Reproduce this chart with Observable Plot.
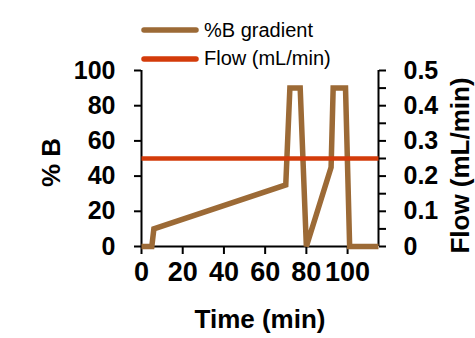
<!DOCTYPE html>
<html><head><meta charset="utf-8">
<script src="https://cdn.jsdelivr.net/npm/d3@7"></script>
<script src="https://cdn.jsdelivr.net/npm/@observablehq/plot@0.6"></script>
<style>
body{margin:0;background:#fff;}
#wrap{position:relative;width:475px;height:338px;font-family:"Liberation Sans",Arial,sans-serif;}
#legend{position:absolute;left:141px;top:16px;}
.item{display:flex;align-items:center;height:28.5px;}
.item span{font-size:20px;margin-left:5px;color:#000;white-space:nowrap;}
</style></head><body><div id="wrap"><div id="legend"></div></div>
<script>
// ---- data ----
const seriesNames = ["%B gradient", "Flow (mL/min)"];
const seriesColors = ["#9C6A36", "#D33B0A"];
const gradientTime = [0, 5, 6, 70, 72, 77, 80, 92, 93, 99, 101, 115];
const gradientPctB = [0, 0, 10, 35, 90, 90, 0, 45, 90, 90, 0, 0];
const flowTime = [0, 115];
const flowValues = [0.25, 0.25];
const xTicks = [0, 20, 40, 60, 80, 100];
const yTicks = [0, 20, 40, 60, 80, 100];
const flowTickValues = [0, 0.1, 0.2, 0.3, 0.4, 0.5];
const flowTickLabels = ["0", "0.1", "0.2", "0.3", "0.4", "0.5"];
const flowMinorTicks = [0.05, 0.15, 0.25, 0.35, 0.45];
const xLabel = "Time (min)";
const yLabel = "% B";
const y2Label = "Flow (mL/min)";

// ---- derived ----
const flowMax = 0.5, pctMax = 100;
const toPct = v => Math.round(v / flowMax * pctMax * 1000) / 1000;
const gradient = gradientTime.map((t, i) => ({t, b: gradientPctB[i]}));
const flow = flowTime.map((t, i) => ({t, b: toPct(flowValues[i])}));
const rightMajor = flowTickValues.map(toPct);
const labelByPct = new Map(rightMajor.map((p, i) => [p, flowTickLabels[i]]));
const rightMinor = flowMinorTicks.map(toPct);

const font = "Liberation Sans, Arial, sans-serif";
const chart = Plot.plot({
  width: 475, height: 338,
  marginLeft: 141, marginRight: 97, marginTop: 70, marginBottom: 92,
  x: {domain: [0, 115]},
  y: {domain: [0, 100]},
  style: {fontFamily: font, background: "transparent", overflow: "visible", color: "#000"},
  marks: [
    Plot.axisX({ticks: xTicks, tickSize: 8, tickPadding: 7, strokeWidth: 2, fontSize: 27, fontWeight: "bold", label: null}),
    Plot.axisY({ticks: yTicks, tickSize: 7, tickPadding: 19, strokeWidth: 2, fontSize: 25, fontWeight: "bold", label: null}),
    Plot.axisY({anchor: "right", ticks: rightMajor, tickSize: 7, tickPadding: 18, strokeWidth: 2, fontSize: 25, fontWeight: "bold", label: null, tickFormat: d => labelByPct.get(d)}),
    Plot.axisY({anchor: "right", ticks: rightMinor, tickSize: 7, strokeWidth: 2, tickFormat: () => "", label: null}),
    Plot.ruleX([0], {stroke: "#000", strokeWidth: 2}),
    Plot.ruleX([115], {stroke: "#000", strokeWidth: 2}),
    Plot.ruleY([0], {stroke: "#000", strokeWidth: 2}),
    Plot.line(gradient, {x: "t", y: "b", stroke: seriesColors[0], strokeWidth: 5.5, strokeLinejoin: "miter", strokeMiterlimit: 4, strokeLinecap: "butt"}),
    Plot.line(flow, {x: "t", y: "b", stroke: seriesColors[1], strokeWidth: 4.5, strokeLinecap: "butt"}),
    Plot.text([xLabel], {frameAnchor: "bottom", textAnchor: "middle", dy: 81, fontSize: 26, fontWeight: "bold", fill: "#000"}),
    Plot.text([yLabel], {frameAnchor: "left", textAnchor: "middle", dx: -90, dy: 4, rotate: -90, fontSize: 26, fontWeight: "bold", fill: "#000"}),
    Plot.text([y2Label], {frameAnchor: "right", textAnchor: "middle", dx: 82, dy: 7, rotate: -90, fontSize: 26, fontWeight: "bold", fill: "#000"})
  ]
});
document.getElementById("wrap").appendChild(chart);

// legend
const legend = d3.select("#legend");
seriesNames.forEach((name, i) => {
  const row = legend.append("div").attr("class", "item");
  const svg = row.append("svg").attr("width", 58).attr("height", 8);
  svg.append("line").attr("x1", 3).attr("x2", 55).attr("y1", 4).attr("y2", 4)
    .attr("stroke", seriesColors[i]).attr("stroke-width", 5.5).attr("stroke-linecap", "round");
  row.append("span").text(name);
});
</script></body></html>
